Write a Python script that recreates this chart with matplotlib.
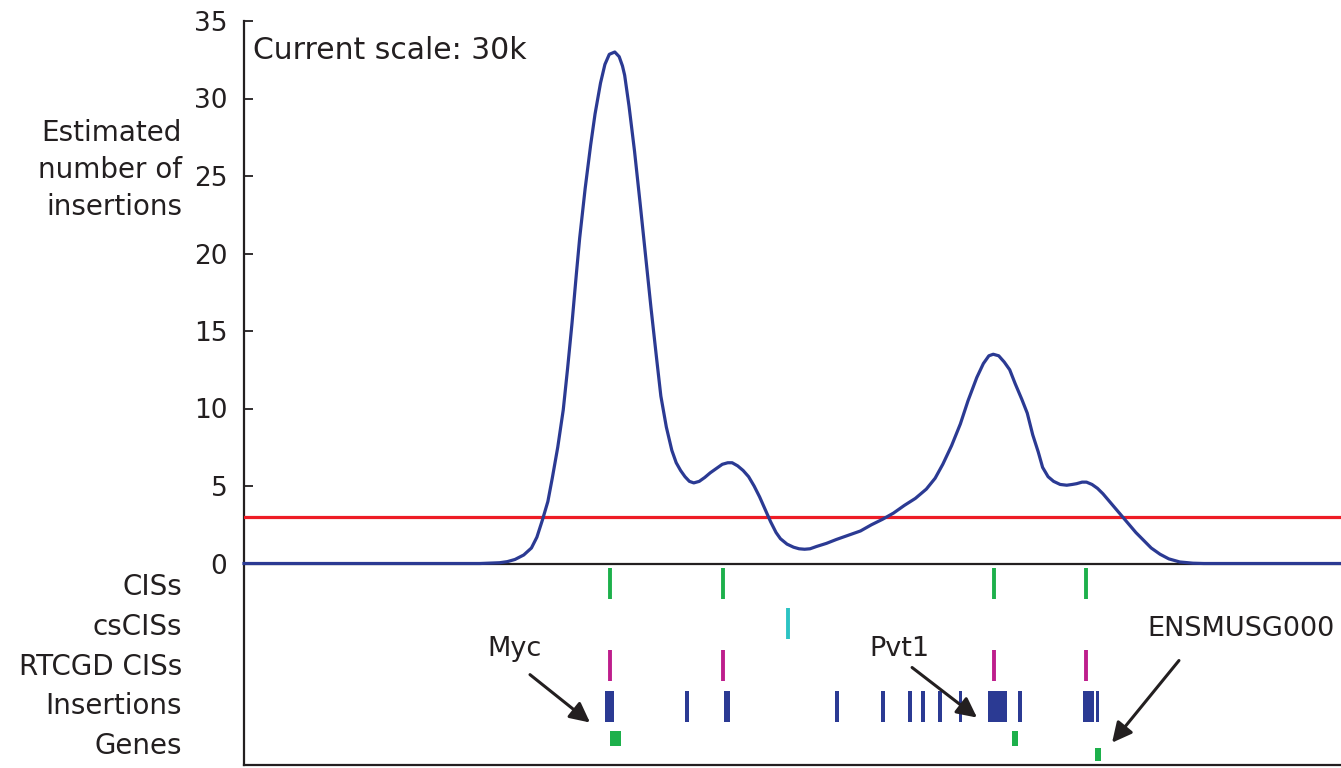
import matplotlib
matplotlib.use("Agg")
import matplotlib.pyplot as plt
import matplotlib.transforms as mtransforms

plt.rcParams['font.family'] = ['DejaVu Sans']

TEXT = '#231F20'
BLUE = '#2B3A93'
RED = '#EE1C25'
GREEN = '#1DB04B'
MAGENTA = '#BE1E8C'
CYAN = '#2CC3C3'

# Kernel density of insertions along the locus (position in kb, estimated count)
pos_kb = [0, 215, 233, 240, 247, 255, 262, 267, 272, 277, 281, 286, 291, 295,
          299, 303, 306, 311, 316, 320, 325, 329, 333, 338, 342, 345, 347, 351,
          356, 361, 366, 371, 376, 380, 385, 390, 394, 398, 402, 406, 410, 415,
          420, 425, 430, 436, 441, 445, 450, 455, 460, 465, 470, 475, 480, 485,
          489, 495, 501, 506, 511, 516, 522, 531, 540, 550, 562, 572, 582, 592,
          602, 612, 622, 630, 637, 645, 653, 660, 668, 674, 679, 683, 688, 693,
          698, 703, 709, 714, 719, 724, 728, 733, 738, 744, 750, 755, 759, 764,
          768, 773, 778, 783, 789, 795, 801, 807, 813, 820, 827, 835, 843, 853,
          865, 875, 1000]
est_insertions = [0, 0, 0.05, 0.12, 0.26, 0.55, 1.0, 1.7, 2.8, 4.0, 5.5, 7.5,
                  9.9, 12.6, 15.5, 18.7, 21.0, 24.2, 27.0, 29.0, 31.0, 32.2,
                  32.85, 33.0, 32.7, 32.1, 31.5, 29.5, 26.6, 23.3, 19.9, 16.5,
                  13.3, 10.8, 8.8, 7.3, 6.5, 6.0, 5.6, 5.3, 5.2, 5.3, 5.55, 5.85,
                  6.1, 6.4, 6.5, 6.5, 6.3, 6.0, 5.6, 5.0, 4.3, 3.5, 2.7, 2.0,
                  1.6, 1.25, 1.05, 0.95, 0.92, 0.95, 1.1, 1.3, 1.55, 1.8, 2.1,
                  2.5, 2.85, 3.25, 3.75, 4.2, 4.8, 5.5, 6.4, 7.6, 9.0, 10.5,
                  12.0, 12.9, 13.4, 13.5, 13.4, 13.0, 12.5, 11.6, 10.6, 9.7,
                  8.3, 7.2, 6.2, 5.6, 5.3, 5.1, 5.05, 5.1, 5.15, 5.25, 5.25,
                  5.1, 4.85, 4.5, 4.0, 3.5, 3.0, 2.5, 2.0, 1.5, 1.0, 0.6, 0.3,
                  0.1, 0.02, 0.0, 0.0]
threshold = 3

# Track features (positions in kb)
cis_kb = [333.6, 436.7, 683.7, 767.6]
cscis_kb = [495.9]
rtcgd_kb = [333.6, 436.7, 683.7, 767.6]
insertion_start = [329.1, 402.0, 437.6, 538.8, 580.7, 605.3, 617.2, 632.7, 651.8,
                   678.2, 705.6, 764.8, 776.7]
insertion_end = [337.3, 405.6, 443.0, 542.4, 584.4, 609.0, 620.8, 636.3, 654.5,
                 695.6, 709.2, 774.9, 779.4]
gene_names = ['Myc', 'Pvt1', 'ENSMUSG000']
gene_start = [333.6, 700.1, 775.8]
gene_end = [343.7, 705.6, 781.2]
gene_row = [0, 0, 1]

track_names = ['CISs', 'csCISs', 'RTCGD CISs', 'Insertions', 'Genes']
track_label_y = [-1.5, -4.1, -6.7, -9.2, -11.8]
yticks = [0, 5, 10, 15, 20, 25, 30, 35]

fig = plt.figure(figsize=(13.41, 7.68), dpi=100)
ax = fig.add_axes([244 / 1341, 3 / 768, 1097 / 1341, 744 / 768])
ax.set_xlim(0, 1000)
ax.set_ylim(-13, 35)

for side in ['top', 'right']:
    ax.spines[side].set_visible(False)
for side in ['left', 'bottom']:
    ax.spines[side].set_color(TEXT)
    ax.spines[side].set_linewidth(1.6)

ax.set_xticks([])
ax.set_yticks(yticks)
ax.tick_params(axis='y', direction='in', length=6.5, width=1.3, pad=12,
               labelsize=19, colors=TEXT)

# Baseline and threshold
ax.axhline(0, color=TEXT, lw=1.6, zorder=2)
ax.axhline(threshold, color=RED, lw=2.3, zorder=3)
ax.plot(pos_kb, est_insertions, color=BLUE, lw=2.3, zorder=4,
        solid_joinstyle='round', clip_on=False)

# Feature tracks
ax.vlines(cis_kb, -2.3, -0.3, color=GREEN, lw=2.8)
ax.vlines(cscis_kb, -4.85, -2.9, color=CYAN, lw=2.8)
ax.vlines(rtcgd_kb, -7.55, -5.55, color=MAGENTA, lw=2.8)
ax.broken_barh([(s, e - s) for s, e in zip(insertion_start, insertion_end)],
               (-10.2, 2.0), facecolor=BLUE, edgecolor='none')
row_y = {0: (-11.75, 0.97), 1: (-12.72, 0.84)}
for s, e, r in zip(gene_start, gene_end, gene_row):
    ax.broken_barh([(s, e - s)], row_y[r], facecolor=GREEN, edgecolor='none')

# Track labels, right-aligned left of the axis
trans = mtransforms.blended_transform_factory(fig.transFigure, ax.transData)
for name, y in zip(track_names, track_label_y):
    ax.text(182 / 1341, y, name, transform=trans, ha='right', va='center',
            fontsize=20, color=TEXT, clip_on=False)

fig.text(182 / 1341, 1 - 170 / 768, 'Estimated\nnumber of\ninsertions',
         ha='right', va='center', multialignment='right', fontsize=20,
         color=TEXT, linespacing=1.4)

ax.text(0.0082, 0.961, 'Current scale: 30k', transform=ax.transAxes,
        ha='left', va='center', fontsize=21.5, color=TEXT)

# Gene annotations with arrows
label_xy = [(247.0, -5.5), (597.5, -5.5), (823.2, -4.2)]
label_ha = ['center', 'center', 'left']
arrow_tail = [(260.7, -7.17), (609.0, -6.71), (852.3, -6.26)]
arrow_tip = [(315.4, -10.26), (668.2, -9.94), (791.3, -11.56)]
for name, lxy, ha, tail, tip in zip(gene_names, label_xy, label_ha,
                                    arrow_tail, arrow_tip):
    ax.text(lxy[0], lxy[1], name, ha=ha, va='center', fontsize=19.5,
            color=TEXT, clip_on=False)
    ax.annotate('', xy=tip, xytext=tail,
                arrowprops=dict(arrowstyle='-|>', color=TEXT, lw=2.2,
                                mutation_scale=30, shrinkA=0, shrinkB=0))

fig.savefig('out.png', dpi=100)
